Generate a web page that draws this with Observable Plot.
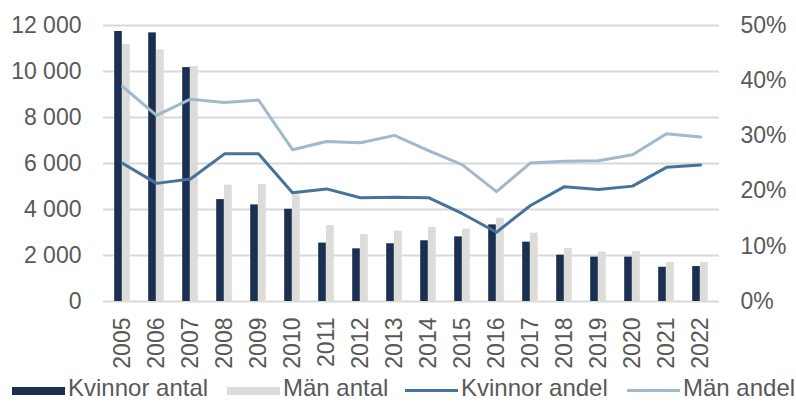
<!DOCTYPE html>
<html>
<head>
<meta charset="utf-8">
<script src="https://cdn.jsdelivr.net/npm/d3@7"></script>
<script src="https://cdn.jsdelivr.net/npm/@observablehq/plot@0.6"></script>
<style>
  html, body { margin: 0; padding: 0; background: #fff; }
  body { width: 796px; height: 402px; overflow: hidden; font-family: "Liberation Sans", Arial, sans-serif; color: #595959; }
  #chart svg { display: block; overflow: visible; }
  #legend { position: relative; height: 28px; }
  .item { position: absolute; top: 0; height: 28px; display: flex; align-items: center; font-size: 24px; line-height: 28px; white-space: nowrap; }
  .sw { width: 53px; margin-right: 3px; }
</style>
</head>
<body>
<div id="chart"></div>
<div id="legend"></div>
<script>
const years = ["2005","2006","2007","2008","2009","2010","2011","2012","2013","2014","2015","2016","2017","2018","2019","2020","2021","2022"];
const kvinnorAntal = [11740, 11680, 10170, 4430, 4200, 4010, 2540, 2290, 2510, 2640, 2810, 3330, 2580, 2015, 1930, 1930, 1490, 1520];
const manAntal = [11170, 10940, 10220, 5060, 5090, 4640, 3300, 2910, 3060, 3220, 3145, 3620, 2970, 2305, 2145, 2175, 1695, 1700];
const kvinnorAndel = [25.05, 21.4, 22.2, 26.75, 26.75, 19.7, 20.4, 18.8, 18.9, 18.8, 15.9, 12.55, 17.4, 20.8, 20.3, 20.9, 24.3, 24.75];
const manAndel = [38.95, 33.7, 36.65, 36.05, 36.5, 27.5, 29.0, 28.75, 30.1, 27.35, 24.75, 19.9, 25.1, 25.4, 25.5, 26.6, 30.4, 29.8];
const countTicks = [0, 2000, 4000, 6000, 8000, 10000, 12000];
const pctTicks = [0, 10, 20, 30, 40, 50];
const seriesNames = ["Kvinnor antal", "Män antal", "Kvinnor andel", "Män andel"];
const colors = {"Kvinnor antal": "#1b2f51", "Män antal": "#dddcd8", "Kvinnor andel": "#44739d", "Män andel": "#9fb9cd"};

const countMax = 12000, pctMax = 50;
const k = countMax / pctMax; // maps % onto the count axis

const kBars = years.map((y, i) => ({year: y, value: kvinnorAntal[i]}));
const mBars = years.map((y, i) => ({year: y, value: manAntal[i]}));
const kLine = years.map((y, i) => ({year: y, pct: kvinnorAndel[i]}));
const mLine = years.map((y, i) => ({year: y, pct: manAndel[i]}));

const fmt = d => d3.format(",")(d).replace(/,/g, " ");

const plot = Plot.plot({
  width: 796,
  height: 374,
  marginLeft: 103,
  marginRight: 77,
  marginTop: 25,
  marginBottom: 73,
  style: {fontFamily: "Liberation Sans, Arial, sans-serif", fontSize: "23px", color: "#595959", background: "#fff"},
  x: {type: "band", domain: years, padding: 0, axis: null},
  y: {domain: [0, countMax], nice: false},
  marks: [
    Plot.ruleY(countTicks, {stroke: "#d9d9d9", strokeWidth: 2}),
    Plot.barY(kBars, {x: "year", y: "value", fill: colors["Kvinnor antal"], insetLeft: 9.2, insetRight: 17.2}),
    Plot.barY(mBars, {x: "year", y: "value", fill: colors["Män antal"], insetLeft: 17.0, insetRight: 9.2}),
    Plot.line(mLine, {x: "year", y: d => d.pct * k, stroke: colors["Män andel"], strokeWidth: 3, strokeLinejoin: "round"}),
    Plot.line(kLine, {x: "year", y: d => d.pct * k, stroke: colors["Kvinnor andel"], strokeWidth: 3, strokeLinejoin: "round"}),
    Plot.axisY({anchor: "left", ticks: countTicks, tickFormat: fmt, tickSize: 0, tickPadding: 22, label: null, fontSize: 23}),
    Plot.axisY({anchor: "right", ticks: pctTicks.map(p => p * k), tickFormat: d => Math.round(d / k) + "%", tickSize: 0, tickPadding: 21, label: null, fontSize: 23}),
    Plot.text(years, {x: d => d, y: () => 0, text: d => d, rotate: -90, textAnchor: "end", dy: 16, fill: "#595959", fontSize: 23})
  ]
});
document.getElementById("chart").appendChild(plot);

const legend = document.getElementById("legend");
const lefts = [12, 227, 405, 627];
seriesNames.forEach((name, i) => {
  const item = document.createElement("div");
  item.className = "item";
  item.style.left = lefts[i] + "px";
  const sw = document.createElement("span");
  sw.className = "sw";
  sw.style.background = colors[name];
  sw.style.height = i < 2 ? "8px" : "3px";
  sw.style.marginTop = i < 2 ? "6px" : "4px";
  item.appendChild(sw);
  const t = document.createElement("span");
  t.textContent = name;
  item.appendChild(t);
  legend.appendChild(item);
});
</script>
</body>
</html>
